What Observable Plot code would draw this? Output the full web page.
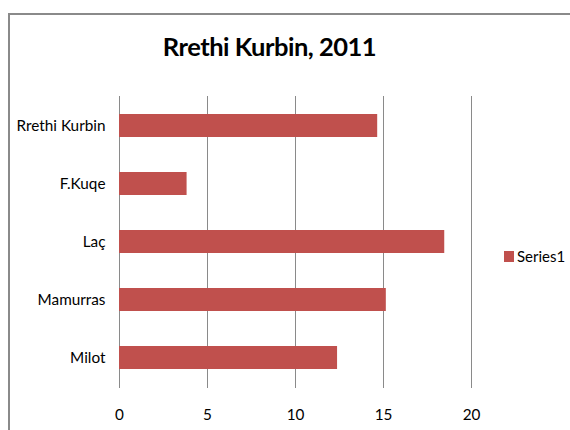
<!DOCTYPE html>
<html>
<head>
<meta charset="utf-8">
<script src="https://cdn.jsdelivr.net/npm/d3@7"></script>
<script src="https://cdn.jsdelivr.net/npm/@observablehq/plot@0.6"></script>
<style>
  html, body { margin: 0; padding: 0; background: #fff; overflow: hidden; }
  #wrap { position: relative; width: 570px; height: 430px; overflow: hidden; font-family: Lato, sans-serif; }
  #border { position: absolute; left: 8px; top: 13px; width: 600px; height: 500px; border-left: 2px solid #8a8a8a; border-top: 2px solid #8a8a8a; }
  #title { position: relative; height: 80px; width: 570px; }
  #title span { position: absolute; left: 0; width: 539px; text-align: center; top: 34px; font-size: 25.5px; letter-spacing: -0.5px; font-weight: bold; color: #000; line-height: 1; }
  #legend { position: absolute; left: 504px; top: 247px; font-size: 15px; color: #000; display: flex; align-items: center; }
  #legend i { display: inline-block; width: 10px; height: 11px; background: #C0504D; margin-right: 3px; }
  #chart { position: absolute; left: 0; top: 80px; }
</style>
</head>
<body>
<div id="wrap">
  <div id="border"></div>
  <div id="title"><span>Rrethi Kurbin, 2011</span></div>
  <div id="chart"></div>
  <div id="legend"><i></i><span>Series1</span></div>
</div>
<script>
const categories = ["Rrethi Kurbin", "F.Kuqe", "Laç", "Mamurras", "Milot"];
const values = [14.67, 3.84, 18.48, 15.16, 12.39];
const xTicks = [0, 5, 10, 15, 20];
const seriesName = "Series1";

const data = categories.map((c, i) => ({name: c, value: values[i], series: seriesName}));

const chart = Plot.plot({
  width: 500,
  height: 350,
  marginLeft: 119,
  marginRight: 29,
  marginTop: 16,
  marginBottom: 42,
  style: {fontFamily: "Lato, sans-serif", fontSize: "15.3px", color: "#000", background: "transparent"},
  x: {domain: [0, 20], ticks: xTicks, tickSize: 0, tickPadding: 21, label: null},
  y: {domain: categories, paddingInner: 0.6, paddingOuter: 0.3, tickSize: 0, tickPadding: 14, label: null},
  marks: [
    Plot.gridX(xTicks, {stroke: "#8a8a8a", strokeOpacity: 1, strokeWidth: 1}),
    Plot.ruleY([0], {frameAnchor: "bottom", stroke: "#8a8a8a", strokeWidth: 1}),
    Plot.barX(data, {x: "value", y: "name", fill: "#C0504D"})
  ]
});
document.getElementById("chart").appendChild(chart);
</script>
</body>
</html>
